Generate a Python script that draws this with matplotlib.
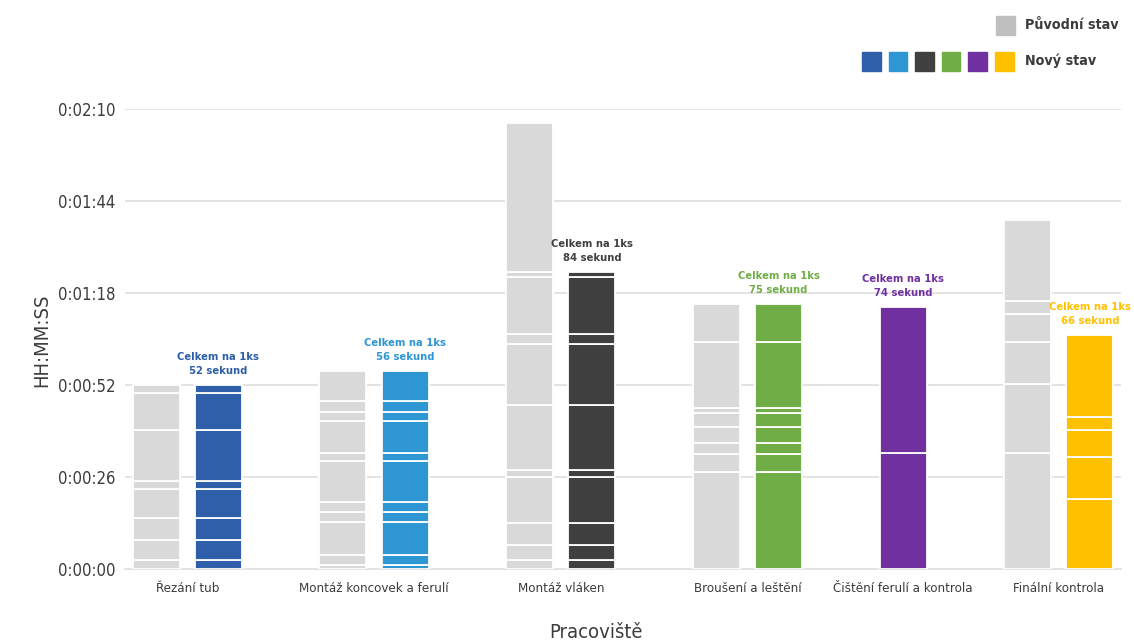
import matplotlib
matplotlib.use("Agg")
import matplotlib.pyplot as plt
from matplotlib.patches import Rectangle
from matplotlib.ticker import FixedLocator, FuncFormatter

plt.rcParams['font.family'] = ['DejaVu Sans']
plt.rcParams['font.stretch'] = 'condensed'

# Workstations
categories = ["Řezání tub", "Montáž koncovek a ferulí", "Montáž vláken",
              "Broušení a leštění", "Čištění ferulí a kontrola", "Finální kontrola"]

# Operation times in seconds, stacked from the bottom up
original_segments = [
    [2.5, 5.7, 6.1, 8.3, 2.4, 14.3, 10.5, 2.2],
    [1.1, 2.9, 9.4, 2.6, 3.0, 11.6, 2.1, 9.1, 2.7, 3.1, 8.4],
    [2.5, 4.3, 6.3, 12.8, 2.1, 18.3, 17.2, 2.9, 16.0, 1.6, 42.0],
    [27.5, 4.9, 3.1, 4.7, 3.8, 1.4, 18.8, 10.8],
    [],
    [32.7, 19.6, 11.9, 7.8, 3.8, 22.7],
]
new_segments = [
    [2.5, 5.7, 6.1, 8.3, 2.4, 14.3, 10.5, 2.2],
    [1.1, 2.9, 9.4, 2.6, 3.0, 11.6, 2.1, 9.1, 2.7, 3.1, 8.4],
    [2.5, 4.3, 6.3, 12.8, 2.1, 18.3, 17.2, 2.9, 16.0, 1.6],
    [27.5, 4.9, 3.1, 4.7, 3.8, 1.4, 18.8, 10.8],
    [32.9, 41.1],
    [19.7, 12.0, 7.6, 3.7, 23.0],
]
new_colors = ["#2E5FA8", "#2E96D3", "#404040", "#70AD47", "#7030A0", "#FFC000"]
original_color = "#D9D9D9"
legend_original_color = "#BFBFBF"
y_ticks = [0, 26, 52, 78, 104, 130]

text_color = "#3C3C3C"
grid_color = "#E4E4E4"

W, H = 1134, 644
fig = plt.figure(figsize=(W / 100, H / 100), dpi=100)
ax = fig.add_axes([125 / W, 1 - 569 / H, (1121 - 125) / W, (569 - 109) / H])

bar_w = 0.755


def stack(x, segs, color):
    bottom = 0.0
    for s in segs:
        ax.bar(x, s, bottom=bottom, width=bar_w, color=color,
               edgecolor="white", linewidth=1.3, zorder=3)
        bottom += s
    return bottom


pos = 0
tick_pos = []
for cat, orig, new, col in zip(categories, original_segments, new_segments, new_colors):
    xs = []
    if orig:
        stack(pos, orig, original_color)
        xs.append(pos)
        pos += 1
    total = stack(pos, new, col)
    xs.append(pos)
    ax.annotate(f"Celkem na 1ks\n{round(total)} sekund", xy=(pos, total),
                xytext=(0, 6.5), textcoords="offset points", ha="center", va="bottom",
                color=col, fontsize=8.0, fontweight="bold", linespacing=1.5)
    tick_pos.append(sum(xs) / len(xs))
    pos += 2

ax.set_xlim(-0.5, pos - 1.5)
ax.set_ylim(0, 130)

ax.yaxis.set_major_locator(FixedLocator(y_ticks))
ax.yaxis.set_major_formatter(FuncFormatter(
    lambda v, _: f"{int(v) // 3600}:{int(v) % 3600 // 60:02d}:{int(v) % 60:02d}"))
ax.set_xticks(tick_pos)
ax.set_xticklabels(categories)
ax.tick_params(axis="both", length=0, colors=text_color)
ax.tick_params(axis="y", pad=7, labelsize=12)
ax.tick_params(axis="x", pad=9, labelsize=9.5)

ax.grid(axis="y", color=grid_color, linewidth=1.4, zorder=0)
ax.set_axisbelow(True)
for side in ["top", "right", "left"]:
    ax.spines[side].set_visible(False)
ax.spines["bottom"].set_color(grid_color)
ax.spines["bottom"].set_linewidth(1.4)
ax.spines["bottom"].set_zorder(1)

fig.text(596 / W, 1 - 632 / H, "Pracoviště", ha="center", va="center",
         fontsize=14.5, color=text_color)
fig.text(42 / W, 1 - 340 / H, "HH:MM:SS", ha="center", va="center",
         rotation=90, fontsize=14.5, color=text_color)

# Legend drawn in figure pixels
def fig_square(x0, y0, size, color):
    fig.patches.append(Rectangle((x0 / W, 1 - (y0 + size) / H), size / W, size / H,
                                 transform=fig.transFigure, color=color))

fig_square(996, 16, 18.5, legend_original_color)
fig.text(1025 / W, 1 - 25 / H, "Původní stav", ha="left", va="center",
         fontsize=10.3, fontweight="bold", color=text_color)
for i, col in enumerate(new_colors):
    fig_square(862 + i * 26.6, 52, 18.5, col)
fig.text(1025 / W, 1 - 61 / H, "Nový stav", ha="left", va="center",
         fontsize=10.3, fontweight="bold", color=text_color)

fig.savefig("out.png", dpi=100)
